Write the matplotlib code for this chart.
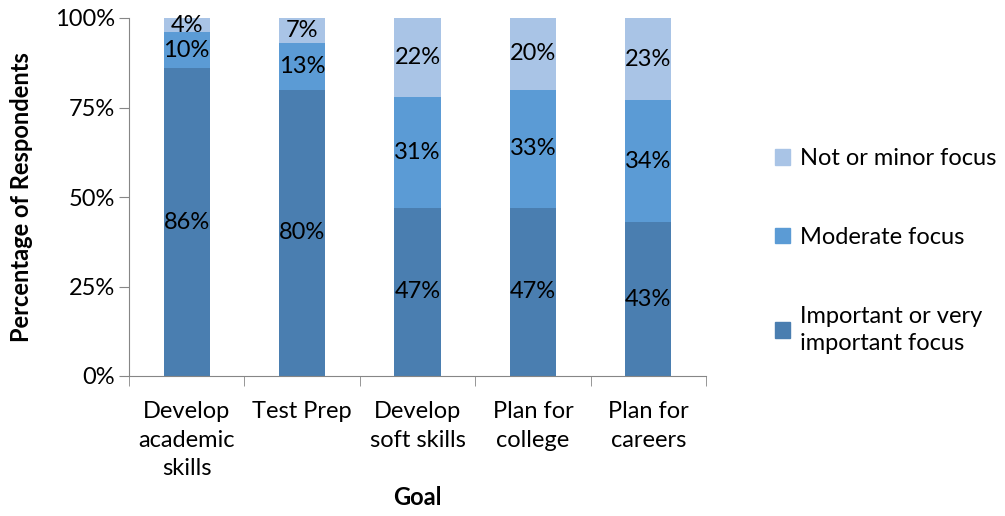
import matplotlib
matplotlib.use("Agg")
import matplotlib.pyplot as plt
from matplotlib.patches import Patch

categories = ["Develop\nacademic\nskills", "Test Prep", "Develop\nsoft skills", "Plan for\ncollege", "Plan for\ncareers"]
important = [86, 80, 47, 47, 43]
moderate = [10, 13, 31, 33, 34]
minor = [4, 7, 22, 20, 23]
series_names = ["Important or very\nimportant focus", "Moderate focus", "Not or minor focus"]
colors = ["#4A7EB0", "#5B9BD5", "#A9C4E6"]

plt.rcParams['font.family'] = ['Lato', 'DejaVu Sans']
FS = 17

fig = plt.figure(figsize=(10.05, 5.16), dpi=100)
ax = fig.add_axes([129/1005, 1-376/516, (706-129)/1005, (376-18)/516])

x = list(range(len(categories)))
bottom = [0]*len(categories)
for vals, col in zip([important, moderate, minor], colors):
    ax.bar(x, vals, width=0.4, bottom=bottom, color=col, zorder=2)
    for xi, v, b in zip(x, vals, bottom):
        ax.text(xi, b + v/2, f"{v}%", ha="center", va="center", fontsize=FS, color="black")
    bottom = [b + v for b, v in zip(bottom, vals)]

ax.set_xlim(-0.5, len(categories)-0.5)
ax.set_ylim(0, 100)
ax.set_yticks([0, 25, 50, 75, 100])
ax.set_yticklabels(["0%", "25%", "50%", "75%", "100%"], fontsize=FS)
ax.set_xticks(x)
ax.set_xticklabels(categories, fontsize=FS, linespacing=1.45, va="top")
ax.tick_params(axis="x", length=0, pad=18)
ax.set_xticks([i - 0.5 for i in range(len(categories)+1)], minor=True)
ax.tick_params(axis="x", which="minor", length=7, color="#868686", direction="out")
ax.tick_params(axis="y", length=7, color="#868686", direction="out", pad=3)
for s in ["top", "right"]:
    ax.spines[s].set_visible(False)
for s in ["left", "bottom"]:
    ax.spines[s].set_color("#868686")
ax.set_xlabel("Goal", fontsize=FS, fontweight="bold", labelpad=5)
ax.set_ylabel("Percentage of Respondents", fontsize=FS, fontweight="bold", labelpad=16)

handles = [Patch(color=c) for c in colors]
leg = fig.legend(handles[::-1], series_names[::-1], loc="upper left",
                 bbox_to_anchor=(775/1005, 1-148/516), frameon=False, fontsize=FS,
                 labelspacing=2.45, handlelength=0.65, handleheight=0.65, handletextpad=0.4,
                 borderaxespad=0, borderpad=0)
for t in leg.get_texts():
    t.set_linespacing(1.35)

fig.savefig("out.png", dpi=100)
